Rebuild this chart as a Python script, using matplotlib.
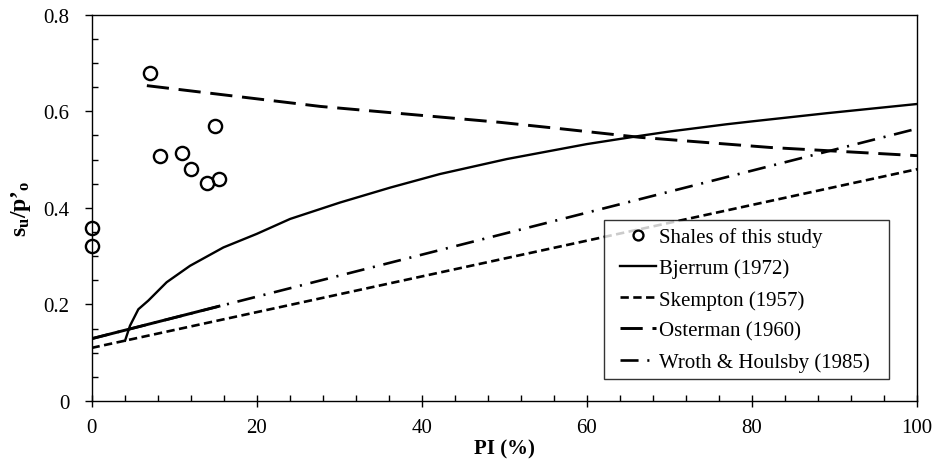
import matplotlib
matplotlib.use("Agg")
import matplotlib.pyplot as plt
from matplotlib.lines import Line2D
from matplotlib.legend_handler import HandlerLine2D
from matplotlib.ticker import MultipleLocator, FixedLocator

plt.rcParams["font.family"] = ["Liberation Serif", "DejaVu Serif"]
plt.rcParams["mathtext.fontset"] = "custom"
plt.rcParams["mathtext.rm"] = "Liberation Serif"
plt.rcParams["mathtext.bf"] = "Liberation Serif:bold"
plt.rcParams["mathtext.it"] = "Liberation Serif:italic"
plt.rcParams["lines.scale_dashes"] = False

# Measured shale samples
shale_pi = [0.0, 0.0, 7.1, 8.3, 10.9, 12.05, 13.95, 15.0, 15.45]
shale_ratio = [0.358, 0.320, 0.679, 0.507, 0.514, 0.480, 0.451, 0.569, 0.460]

# Published correlations
bjerrum_pi = [4.06, 4.66, 5.67, 6.88, 9.1, 11.93, 15.97, 20.0, 24.05, 30.1,
              36.2, 42.2, 50.3, 60.0, 66.4, 70.0, 76.9, 80.0, 89.1, 100.0]
bjerrum_ratio = [0.125, 0.156, 0.190, 0.208, 0.246, 0.280, 0.318, 0.346, 0.377,
                 0.411, 0.442, 0.470, 0.501, 0.532, 0.549, 0.558, 0.573, 0.579,
                 0.596, 0.615]

skempton_pi = [0.0, 100.0]
skempton_ratio = [0.110, 0.480]

osterman_pi = [6.7, 27.7, 49.5, 56.7, 66.4, 82.2, 100.0]
osterman_ratio = [0.653, 0.610, 0.577, 0.564, 0.546, 0.525, 0.508]

wroth_pi = [0.0, 100.0]
wroth_ratio = [0.129, 0.564]
wroth_solid_pi = [0.0, 15.6]
wroth_solid_ratio = [0.129, 0.197]

x_ticks = [0, 20, 40, 60, 80, 100]
y_ticks = [0, 0.2, 0.4, 0.6, 0.8]
y_tick_labels = ["0", "0.2", "0.4", "0.6", "0.8"]

fig = plt.figure(figsize=(9.36, 4.6), dpi=100)
ax = fig.add_axes([0.0978, 0.126, 0.882, 0.840])

ax.plot(shale_pi, shale_ratio, linestyle="none", marker="o", markersize=9.5,
        markerfacecolor="none", markeredgecolor="black", markeredgewidth=1.7,
        clip_on=False, zorder=5, label="Shales of this study")
ax.plot(bjerrum_pi, bjerrum_ratio, color="black", lw=1.7, label="Bjerrum (1972)")
ax.plot(skempton_pi, skempton_ratio, color="black", lw=1.9,
        dashes=(6.0, 3.2), label="Skempton (1957)")
ax.plot(osterman_pi, osterman_ratio, color="black", lw=2.1,
        dashes=(16.0, 7.0), label="Osterman (1960)")
ax.plot(wroth_pi, wroth_ratio, color="black", lw=1.9,
        dashes=(13.0, 6.3, 1.5, 6.3), label="Wroth & Houlsby (1985)")
ax.plot(wroth_solid_pi, wroth_solid_ratio, color="black", lw=2.1,
        solid_capstyle="butt")

ax.set_xlim(0, 100)
ax.set_ylim(0, 0.8)
ax.xaxis.set_major_locator(FixedLocator(x_ticks))
ax.xaxis.set_minor_locator(MultipleLocator(4))
ax.set_yticks(y_ticks)
ax.set_yticklabels(y_tick_labels)
ax.yaxis.set_minor_locator(MultipleLocator(0.05))

ax.tick_params(axis="x", which="major", direction="inout", length=9, width=1,
               labelsize=15, pad=8)
ax.tick_params(axis="x", which="minor", direction="in", length=4, width=1)
ax.tick_params(axis="y", which="major", direction="out", length=5, width=1,
               labelsize=15, pad=11)
ax.tick_params(axis="y", which="minor", direction="in", length=4, width=1)

for s in ax.spines.values():
    s.set_linewidth(1.0)

ax.set_xlabel("PI (%)", fontsize=15, fontweight="bold", labelpad=1)
ax.set_ylabel("$\\mathbf{s_u/p\u2019_o}$", fontsize=17)
ax.yaxis.set_label_coords(-0.071, 0.5)

leg = ax.legend(loc="upper left", bbox_to_anchor=(0.621, 0.065, 0.345, 0.4035),
                mode="expand", fontsize=15, frameon=True, fancybox=False,
                edgecolor="black", handlelength=2.12, handletextpad=0.15,
                labelspacing=0.55, borderpad=0.35, borderaxespad=0,
                markerscale=0.75,
                handler_map={Line2D: HandlerLine2D(xpad=0.43)})
leg.get_frame().set_linewidth(1.0)

fig.savefig("out.png", dpi=100)
